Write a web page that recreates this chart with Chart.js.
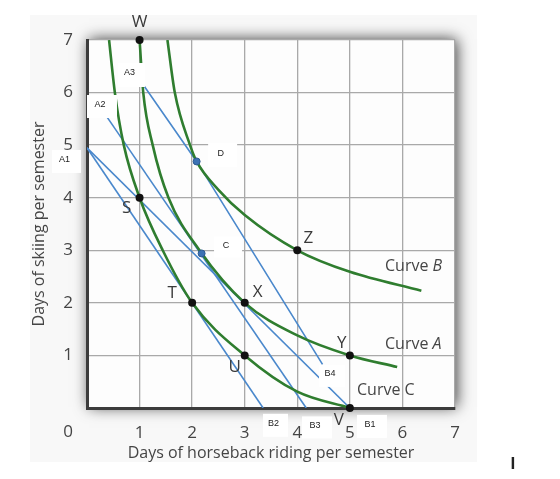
<!DOCTYPE html>
<html>
<head>
<meta charset="utf-8">
<script src="https://cdn.jsdelivr.net/npm/chart.js@4.4.1/dist/chart.umd.min.js"></script>
<style>
  html, body { margin: 0; padding: 0; background: #fff; }
  #wrap { width: 560px; height: 479px; }
</style>
</head>
<body>
<div id="wrap"><canvas id="indiffChart" width="560" height="479"></canvas></div>
<script>
// indifference curves
const curveAx = [1.0, 1.07, 1.25, 1.55, 2.14, 3, 4, 5, 5.9];
const curveAy = [7, 6, 5, 4, 3, 2, 1.38, 1, 0.78];
const curveBx = [1.53, 1.67, 1.96, 2.085, 2.5, 3, 4, 5, 6.36];
const curveBy = [7, 6, 5, 4.69, 4.15, 3.67, 3, 2.59, 2.23];
const curveCx = [0.42, 0.53, 0.70, 1, 1.44, 2, 3, 4, 5];
const curveCy = [7, 6, 5, 4, 3, 2, 1, 0.31, 0];

// budget lines
const lineA1B1x = [0, 5];
const lineA1B1y = [4.95, 0];
const lineA1B2x = [0, 3.35];
const lineA1B2y = [4.95, 0];
const lineA2B3x = [0.2, 4.17];
const lineA2B3y = [5.8, 0];
const lineA3B4x = [1.0, 2.085, 4.48];
const lineA3B4y = [6.25, 4.69, 0.83];

// labelled points
const pointNames = ["W", "S", "T", "U", "X", "Y", "Z", "V"];
const pointX = [1, 1, 2, 3, 3, 5, 4, 5];
const pointY = [7, 4, 2, 1, 2, 1, 3, 0];
const tangentX = [2.18, 2.085];
const tangentY = [2.94, 4.69];

const xTicks = [1, 2, 3, 4, 5, 6, 7];
const yTicks = [1, 2, 3, 4, 5, 6, 7];

const GREEN = "#2f7d2f";
const BLUE = "#4a88cc";
const TEXT = "#454545";
const FONT = "'Open Sans', sans-serif";

function pts(xs, ys) {
  return xs.map((x, i) => ({ x: x, y: ys[i] }));
}

function curve(xs, ys) {
  return {
    data: pts(xs, ys),
    showLine: true,
    borderColor: GREEN,
    borderWidth: 2.6,
    pointRadius: 0,
    cubicInterpolationMode: "monotone",
    order: 2,
  };
}

function budget(xs, ys) {
  return {
    data: pts(xs, ys),
    showLine: true,
    borderColor: BLUE,
    borderWidth: 1.6,
    pointRadius: 0,
    tension: 0,
    order: 3,
  };
}

const backdrop = {
  id: "backdrop",
  beforeDraw(chart) {
    const ctx = chart.ctx;
    const a = chart.chartArea;
    ctx.save();
    ctx.fillStyle = "#f8f8f8";
    ctx.fillRect(30, 15, 447, 447);
    ctx.shadowColor = "rgba(0,0,0,0.75)";
    ctx.shadowBlur = 14;
    ctx.shadowOffsetX = 2;
    ctx.shadowOffsetY = -1;
    ctx.fillStyle = "#fdfdfd";
    ctx.fillRect(a.left, a.top, a.right - a.left, a.bottom - a.top);
    ctx.restore();
  },
};

// boxes and letters written on the chart
const annotations = {
  id: "annotations",
  afterDatasetsDraw(chart) {
    const ctx = chart.ctx;
    const xs = chart.scales.x;
    const ys = chart.scales.y;
    ctx.save();

    // white label boxes: [text, x value, y value, w, h]
    const boxes = [
      ["A1", -0.39, 4.69, 29, 23],
      ["A2", 0.285, 5.735, 30, 23],
      ["A3", 0.846, 6.334, 27, 24],
      ["D", 2.58, 4.81, 29, 24],
      ["C", 2.683, 3.06, 28, 21],
      ["B2", 3.586, -0.33, 25, 23],
      ["B3", 4.375, -0.37, 30, 22],
      ["B1", 5.42, -0.35, 30, 23],
      ["B4", 4.66, 0.61, 26, 22],
    ];
    boxes.forEach(function (b) {
      const cx = xs.getPixelForValue(b[1]);
      const cy = ys.getPixelForValue(b[2]);
      ctx.fillStyle = "#ffffff";
      ctx.fillRect(cx - b[3] / 2, cy - b[4] / 2, b[3], b[4]);
      ctx.fillStyle = "#222";
      ctx.font = "9px 'Liberation Sans', sans-serif";
      ctx.textAlign = "center";
      ctx.textBaseline = "middle";
      ctx.fillText(b[0], cx - 2, cy - 2);
    });

    // point letters, offset in px from each point
    const offsets = {
      W: [0, -18], S: [-13, 10], T: [-20, -10], U: [-10, 12],
      X: [13, -11], Y: [-8, -12], Z: [11, -12], V: [-11, 12],
    };
    ctx.fillStyle = "#3a3a3a";
    ctx.font = "17px " + FONT;
    ctx.textAlign = "center";
    ctx.textBaseline = "middle";
    pointNames.forEach(function (n, i) {
      const px = xs.getPixelForValue(pointX[i]) + offsets[n][0];
      const py = ys.getPixelForValue(pointY[i]) + offsets[n][1];
      ctx.fillText(n, px, py);
    });

    // curve names
    ctx.fillStyle = TEXT;
    ctx.textAlign = "left";
    const names = [["Curve ", "B", 385, 266, true], ["Curve ", "A", 385, 344, true], ["Curve ", "C", 357, 390, false]];
    names.forEach(function (c) {
      ctx.font = "16px " + FONT;
      ctx.fillText(c[0], c[2], c[3]);
      const w = ctx.measureText(c[0]).width;
      ctx.font = (c[4] ? "italic " : "") + "16px " + FONT;
      ctx.fillText(c[1], c[2] + w, c[3]);
    });

    // origin label and the stray mark at the bottom right
    ctx.font = "17px " + FONT;
    ctx.textAlign = "center";
    ctx.fillText("0", 68, 432);
    ctx.fillStyle = "#222";
    ctx.font = "bold 16px " + FONT;
    ctx.fillText("I", 513, 464);
    ctx.restore();
  },
};

new Chart(document.getElementById("indiffChart"), {
  type: "scatter",
  data: {
    datasets: [
      curve(curveAx, curveAy),
      curve(curveBx, curveBy),
      curve(curveCx, curveCy),
      budget(lineA1B1x, lineA1B1y),
      budget(lineA1B2x, lineA1B2y),
      budget(lineA2B3x, lineA2B3y),
      budget(lineA3B4x, lineA3B4y),
      {
        data: pts(pointX, pointY),
        pointRadius: 4,
        pointBackgroundColor: "#111",
        pointBorderWidth: 0,
        clip: false,
        order: 0,
      },
      {
        data: pts(tangentX, tangentY),
        pointRadius: 3.5,
        pointBackgroundColor: "#3c72b4",
        pointBorderColor: "#2d5a92",
        pointBorderWidth: 1,
        order: 1,
      },
    ],
  },
  options: {
    responsive: false,
    animation: false,
    layout: { padding: { top: 40, right: 105, left: 0, bottom: 0 } },
    plugins: {
      legend: { display: false },
      tooltip: { enabled: false },
    },
    scales: {
      x: {
        type: "linear",
        min: 0,
        max: 7,
        afterFit: function (scale) { scale.height = 71; },
        afterBuildTicks: function (scale) {
          scale.ticks = [0].concat(xTicks).map((v) => ({ value: v }));
        },
        ticks: {
          padding: 15,
          color: TEXT,
          font: { family: FONT, size: 17 },
          callback: (v) => (v === 0 ? "" : String(v)),
        },
        grid: { color: "#a9a9a9", lineWidth: 1.3, drawTicks: false },
        border: { color: "#3c3c3c", width: 3 },
        title: {
          display: true,
          text: "Days of horseback riding per semester",
          color: TEXT,
          font: { family: FONT, size: 16 },
          padding: { top: 0, bottom: 16 },
        },
      },
      y: {
        type: "linear",
        min: 0,
        max: 7,
        afterFit: function (scale) { scale.width = 87; },
        afterBuildTicks: function (scale) {
          scale.ticks = [0].concat(yTicks).map((v) => ({ value: v }));
        },
        ticks: {
          padding: 14,
          color: TEXT,
          font: { family: FONT, size: 17 },
          callback: (v) => (v === 0 ? "" : String(v)),
        },
        grid: { color: "#a9a9a9", lineWidth: 1.3, drawTicks: false },
        border: { color: "#3c3c3c", width: 3 },
        title: {
          display: true,
          text: "Days of skiing per semester",
          color: TEXT,
          font: { family: FONT, size: 16 },
          padding: { top: 30, bottom: 0 },
        },
      },
    },
  },
  plugins: [backdrop, annotations],
});
</script>
</body>
</html>
